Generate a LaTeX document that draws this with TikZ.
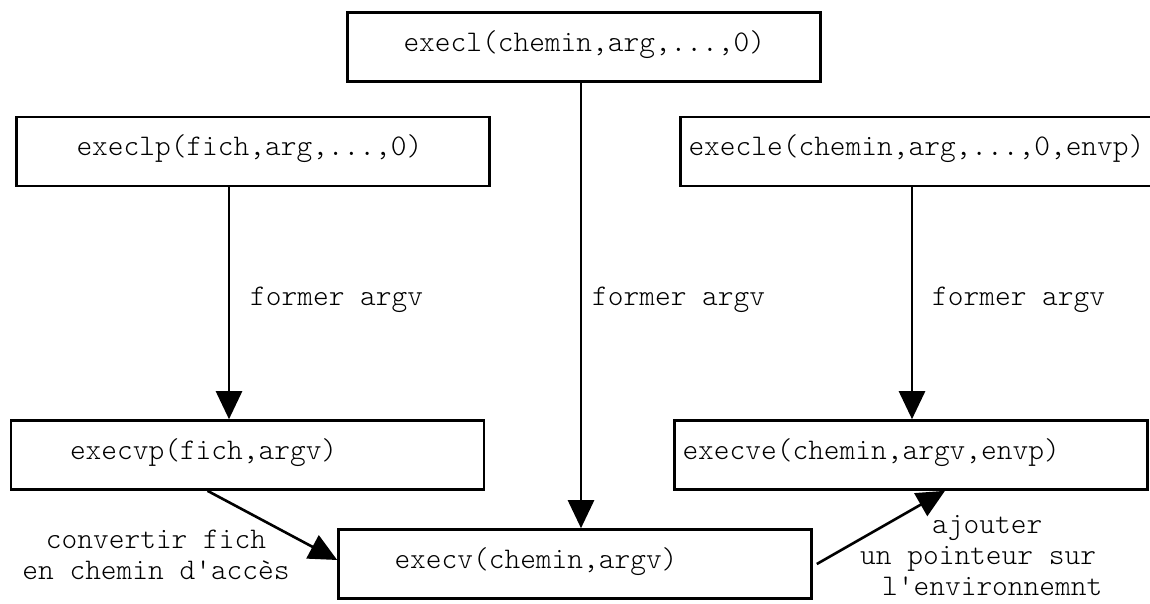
\documentclass[tikz,border=0pt]{standalone}
\usetikzlibrary{arrows.meta,backgrounds,calc}
\newcommand\boxline[2]{\makebox[473pt][l]{\hspace*{#1}#2}}
\begin{document}
\begin{tikzpicture}[x=1pt,y=-1pt,
  every node/.style={font=\ttfamily\fontseries{l}\fontsize{29.94}{31}\selectfont},
  fbox/.style={draw,line width=2.6pt,fill=white,inner xsep=0pt,inner ysep=0pt,
     minimum width=473pt,minimum height=69pt,
     text height=19pt,text depth=10.6pt},
  arr/.style={line width=2.6pt,-{Triangle[length=28pt,width=26pt]}},
  lbl/.style={inner sep=0pt}]
\useasboundingbox (0,0) rectangle (1150,603);
% boxes
\node[fbox] (execl)  at (584,47)    {\boxline{56pt}{execl(chemin,arg,...,0)}};
\node[fbox] (execlp) at (253,151.5) {\boxline{60pt}{execlp(fich,arg,...,0)}};
\node[fbox] (execle) at (917,151.5) {\boxline{8pt}{execle(chemin,arg,...,0,envp)}};
\node[fbox] (execvp) at (247.5,455) {\boxline{59pt}{execvp(fich,argv)}};
\node[fbox] (execve) at (911,455)   {\boxline{8pt}{execve(chemin,argv,envp)}};
\node[fbox] (execv)  at (575,564)   {\boxline{56pt}{execv(chemin,argv)}};
% labels
\node[lbl,anchor=base west] (f1) at (250,305) {former argv};
\node[lbl,anchor=base west] (f2) at (592,305) {former argv};
\node[lbl,anchor=base west] (f3) at (932,305) {former argv};
\node[lbl,anchor=north,align=center] (conv) at (156,528)
  {\rule{0pt}{20pt}convertir fich\\\rule{0pt}{20pt}en chemin d'accès};
\node[lbl,anchor=north west,align=left] (ajout) at (860,513)
  {\rule{0pt}{20pt}\hspace*{72pt}ajouter\\\rule{0pt}{20pt}un pointeur sur\\\rule{0pt}{20pt}\hspace*{22pt}l'environnemnt};
% connectors behind the boxes
\begin{scope}[on background layer]
\fill[white] (0,0) rectangle (1150,603);
\draw[arr] ([xshift=-24pt]execlp.south) -- ([xshift=-24pt]execlp.south |- execvp.north);
\draw[arr] ([xshift=-3pt]execl.south) -- ([xshift=-3pt]execl.south |- execv.north);
\draw[arr] ([xshift=-5pt]execle.south) -- ([xshift=-5pt]execle.south |- execve.north);
\draw[arr] ([xshift=-40pt]execvp.south) -- ([yshift=4pt]execv.west);
\draw[arr] ([xshift=4pt]execv.east) -- ([xshift=34pt]execve.south);
\end{scope}
\end{tikzpicture}
\end{document}
